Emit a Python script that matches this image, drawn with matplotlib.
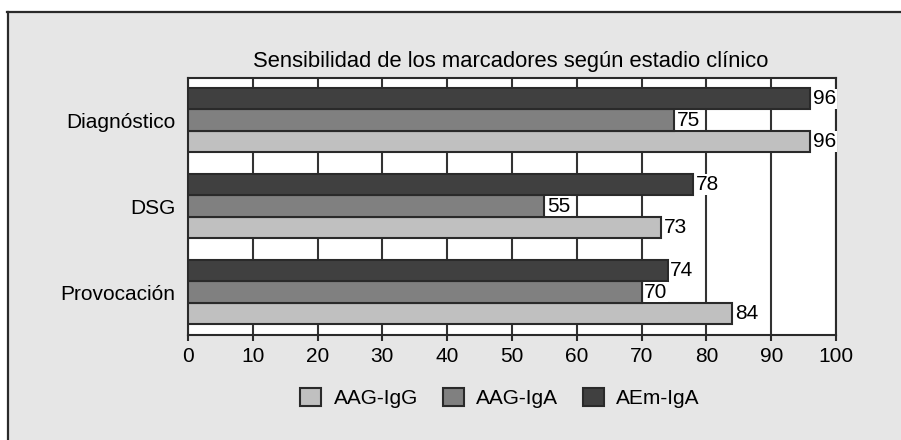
import matplotlib
matplotlib.use("Agg")
import matplotlib.pyplot as plt
from matplotlib.patches import Rectangle, Patch
import numpy as np

categories = ["Provocación", "DSG", "Diagnóstico"]
series_names = ["AAG-IgG", "AAG-IgA", "AEm-IgA"]
aag_igg = [84, 73, 96]
aag_iga = [70, 55, 75]
aem_iga = [74, 78, 96]
series_values = [aag_igg, aag_iga, aem_iga]
colors = ["#c0c0c0", "#808080", "#404040"]
xticks = [0, 10, 20, 30, 40, 50, 60, 70, 80, 90, 100]
title = "Sensibilidad de los marcadores según estadio clínico"

plt.rcParams['font.family'] = ['Liberation Sans', 'DejaVu Sans']
edge = "#2a2a2a"

fig = plt.figure(figsize=(9.01, 4.40), dpi=100)
fig.patch.set_facecolor("white")
# background panel with border (top and left lines)
fig.patches.append(Rectangle((7/901, 0), 1, 1 - 12/440, transform=fig.transFigure,
                             facecolor="#e6e6e6", edgecolor="none", zorder=-10))
fig.add_artist(plt.Line2D([7/901, 1], [1 - 12/440, 1 - 12/440], color=edge, lw=1.6,
                          transform=fig.transFigure))
fig.add_artist(plt.Line2D([7.5/901, 7.5/901], [0, 1 - 12/440], color=edge, lw=1.6,
                          transform=fig.transFigure))

ax = fig.add_axes([188/901, 1 - 335/440, (836 - 188)/901, (335 - 78)/440])
ax.set_facecolor("white")

y = np.arange(len(categories))
h = 0.25
offsets = [-h, 0, h]
for vals, off, col, name in zip(series_values, offsets, colors, series_names):
    ax.barh(y + off, vals, height=h, color=col, edgecolor=edge, linewidth=1.5,
            label=name, zorder=3)
    for yi, v in zip(y + off, vals):
        ax.text(v + 0.4, yi, f"{v}", va="center", ha="left", fontsize=15, zorder=5,
                bbox=dict(facecolor="white", edgecolor="none", pad=0.5))

ax.set_xlim(0, 100)
ax.set_ylim(-0.5, 2.49)
ax.set_xticks(xticks)
ax.set_xticklabels([str(t) for t in xticks], fontsize=15)
ax.set_yticks(y)
ax.set_yticklabels(categories, fontsize=15)
ax.tick_params(axis="y", length=0, pad=9)
ax.tick_params(axis="x", length=4.5, width=1.5, color=edge, pad=4)
ax.xaxis.grid(True, color="#333333", linewidth=1.5, zorder=0)
ax.set_axisbelow(True)
for s in ax.spines.values():
    s.set_linewidth(1.5)
    s.set_color(edge)

fig.text(511/901, 1 - 62/440, title, ha="center", va="center", fontsize=15.8)

handles = [Patch(facecolor=c, edgecolor=edge, linewidth=1.5) for c in colors]
fig.legend(handles, series_names, loc="center", bbox_to_anchor=(500/901, 1 - 398/440),
           ncol=3, frameon=False, fontsize=15, handlelength=1.0, handleheight=1.0,
           columnspacing=1.2, handletextpad=0.6)

fig.savefig("out.png", dpi=100, facecolor=fig.get_facecolor())
